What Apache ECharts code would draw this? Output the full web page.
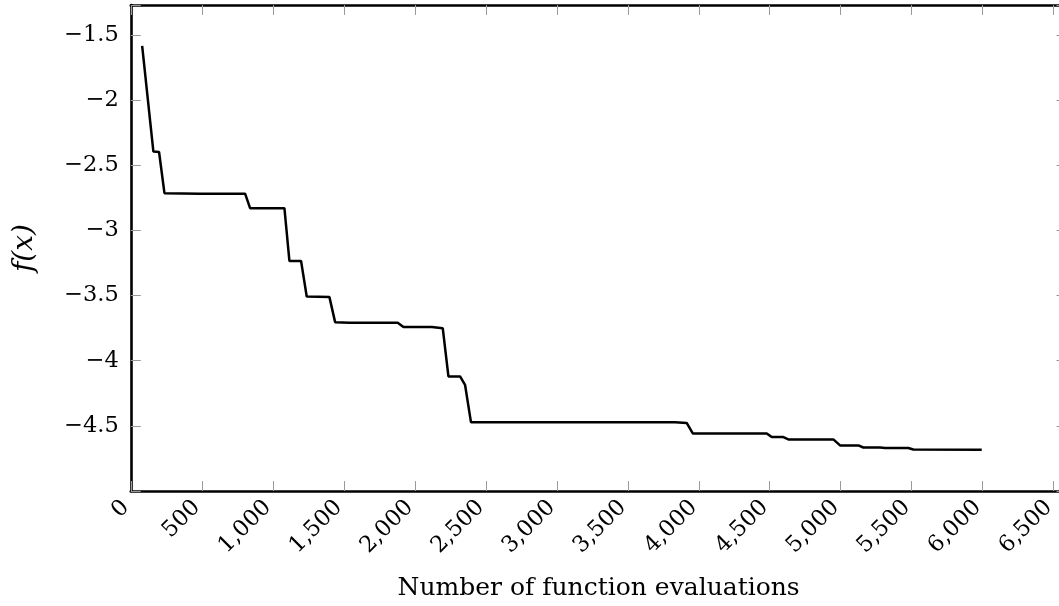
<!DOCTYPE html>
<html>
<head>
<meta charset="utf-8">
<script src="https://cdn.jsdelivr.net/npm/echarts@6/dist/echarts.min.js"></script>
<style>
html,body{margin:0;padding:0;background:#fff;overflow:hidden;width:1059px;height:606px;}
#c{width:1072px;height:606px;}
</style>
</head>
<body>
<div id="c"></div>
<script>
// Data
var evals = [80, 159, 199, 237, 488, 805, 840, 1082, 1117, 1199, 1239, 1399, 1439, 1540, 1880, 1920, 2120, 2197, 2237, 2319, 2354, 2396, 3833, 3915, 3958, 4479, 4514, 4596, 4631, 4948, 4995, 5124, 5159, 5277, 5312, 5476, 5511, 5993];
var fvals = [-1.584, -2.395, -2.398, -2.714, -2.718, -2.718, -2.829, -2.829, -3.234, -3.234, -3.507, -3.512, -3.704, -3.709, -3.709, -3.742, -3.742, -3.750, -4.121, -4.121, -4.185, -4.473, -4.473, -4.478, -4.558, -4.558, -4.586, -4.586, -4.604, -4.604, -4.650, -4.650, -4.666, -4.666, -4.670, -4.670, -4.681, -4.683];
var xTickStep = 500;
var yTickStep = 0.5;
var xRange = [0, 6590];
var yRange = [-5, -1.27];
var xTitle = 'Number of function evaluations';
var yTitle = 'f(x)';

var FONT = '"DejaVu Serif", "Liberation Serif", serif';
var points = evals.map(function (x, i) { return [x, fvals[i]]; });

function isMult(v, step) {
  var r = Math.abs(v / step - Math.round(v / step));
  return r < 1e-6;
}
function xFmt(v) {
  if (!isMult(v, xTickStep)) return '';
  return Math.round(v).toLocaleString('en-US');
}
function yFmt(v) {
  if (!isMult(v, yTickStep) || v <= yRange[0] + 1e-9) return '';
  var s = String(Math.abs(Math.round(v * 10) / 10));
  return (v < 0 ? '\u2212' : '') + s;
}

var tickStyle = { show: true, inside: true, length: 10, lineStyle: { color: '#9a9a9a', width: 1 } };
var lineStyle = { show: true, onZero: false, lineStyle: { color: '#000', width: 2.6 } };

var chart = echarts.init(document.getElementById('c'), null, { renderer: 'canvas' });
chart.setOption({
  animation: false,
  backgroundColor: '#fff',
  grid: { left: 130.8, right: 5.5, top: 5, bottom: 114.7, containLabel: false },
  xAxis: [{
    type: 'value', position: 'bottom', min: xRange[0], max: xRange[1], interval: xTickStep,
    axisLine: lineStyle, axisTick: tickStyle, splitLine: { show: false },
    axisLabel: { formatter: xFmt, rotate: 45, margin: 8, padding: [0, 7, 0, 0], color: '#000', fontFamily: FONT, fontSize: 22.5 },
    name: xTitle, nameLocation: 'middle', nameGap: 85,
    nameTextStyle: { color: '#000', fontFamily: FONT, fontSize: 25 }
  }, {
    type: 'value', position: 'top', min: xRange[0], max: xRange[1], interval: xTickStep,
    axisLine: lineStyle, axisTick: tickStyle, splitLine: { show: false }, axisLabel: { show: false }
  }],
  yAxis: [{
    type: 'value', position: 'left', min: yRange[0], max: yRange[1], interval: yTickStep,
    axisLine: lineStyle, axisTick: tickStyle, splitLine: { show: false },
    axisLabel: { formatter: yFmt, margin: 12, color: '#000', fontFamily: FONT, fontSize: 22.5 },
    name: yTitle, nameLocation: 'middle', nameGap: 92, nameRotate: 90,
    nameTextStyle: { color: '#000', fontFamily: FONT, fontSize: 28, fontStyle: 'italic' }
  }, {
    type: 'value', position: 'right', min: yRange[0], max: yRange[1], interval: yTickStep,
    axisLine: lineStyle, axisTick: tickStyle, splitLine: { show: false }, axisLabel: { show: false }
  }],
  series: [{
    type: 'line', data: points, xAxisIndex: 0, yAxisIndex: 0,
    showSymbol: false, symbol: 'none',
    lineStyle: { color: '#000', width: 2.5 }, clip: true
  }]
});
</script>
</body>
</html>
